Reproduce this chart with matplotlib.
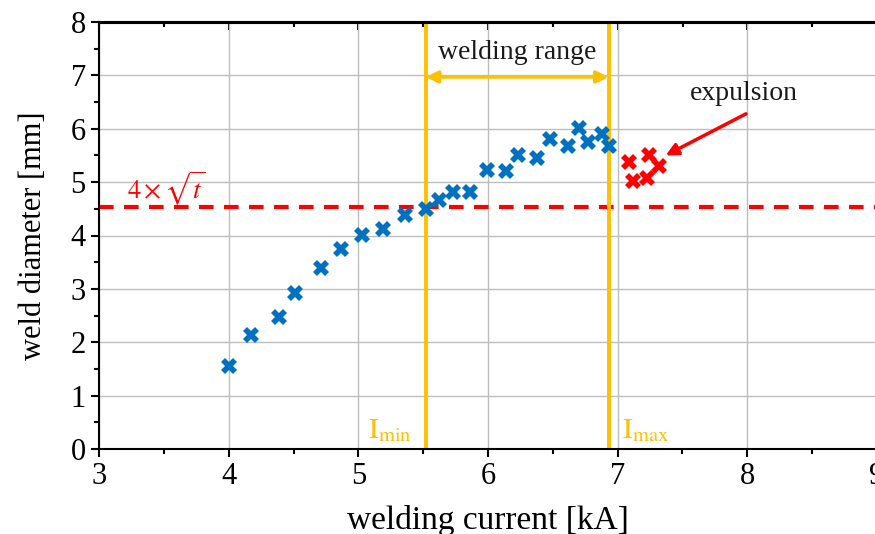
#!/usr/bin/env python
import numpy as np
import matplotlib
matplotlib.use("Agg")
import matplotlib.pyplot as plt
from matplotlib.ticker import MultipleLocator

plt.rcParams['font.family'] = ['Liberation Serif', 'DejaVu Serif']
plt.rcParams['mathtext.fontset'] = 'stix'

# welding current [kA] and weld diameter [mm]
strom_ok = [4.00, 4.17, 4.39, 4.51, 4.71, 4.87, 5.03, 5.19, 5.36, 5.52, 5.62,
            5.73, 5.86, 5.99, 6.14, 6.23, 6.38, 6.48, 6.62, 6.70, 6.77, 6.88, 6.93]
durchm_ok = [1.56, 2.14, 2.47, 2.93, 3.40, 3.75, 4.01, 4.13, 4.39, 4.50, 4.67,
             4.82, 4.82, 5.23, 5.20, 5.51, 5.46, 5.81, 5.67, 6.02, 5.76, 5.91, 5.67]
# Spritzer (expulsion)
strom_spritzer = [7.09, 7.12, 7.24, 7.23, 7.32]
durchm_spritzer = [5.37, 5.03, 5.50, 5.08, 5.31]

i_min = 5.52
i_max = 6.93
d_min = 4.53   # 4 x sqrt(t)

azul = '#0070C0'
rojo = '#FF0000'
amarillo = '#FFC000'

fig = plt.figure(figsize=(8.75, 5.34), dpi=100)
ax = fig.add_axes([99/875, (534-449)/534, (877-99)/875, (449-22)/534])

ax.grid(True, which='major', color='#bdbdbd', lw=1, zorder=0)
ax.axhline(d_min, color=rojo, lw=3, dashes=(3.5, 2.5), zorder=2)
ax.axvline(i_min, color=amarillo, lw=2.8, zorder=2)
ax.axvline(i_max, color=amarillo, lw=2.8, zorder=2)

ax.plot(strom_ok, durchm_ok, 'X', color=azul, ms=11.5, mew=0, zorder=3)
ax.plot(strom_spritzer, durchm_spritzer, 'X', color=rojo, ms=11.5, mew=0, zorder=3)

# welding range arrow
ax.annotate('', xy=(i_min, 6.97), xytext=(i_max, 6.97),
            arrowprops=dict(arrowstyle='<|-|>', color=amarillo, lw=2.5,
                            mutation_scale=18, shrinkA=0, shrinkB=0))
ax.text((i_min + i_max) / 2, 7.42, 'welding range', fontsize=20,
        ha='center', va='center', color='#1a1a1a')

ax.annotate('', xy=(7.37, 5.50), xytext=(7.99, 6.28),
            arrowprops=dict(arrowstyle='-|>', color=rojo, lw=2.5,
                            mutation_scale=18, shrinkA=0, shrinkB=0))
ax.text(7.97, 6.66, 'expulsion', fontsize=20, ha='center', va='center',
        color='#1a1a1a')

ax.text(3.52, 4.88, r'$4\times\sqrt{t}$', fontsize=19, color=rojo,
        ha='center', va='center')
ax.text(5.41, 0.1, r'$\mathrm{I}_{\mathrm{min}}$', fontsize=21, color=amarillo,
        ha='right', va='bottom')
ax.text(7.03, 0.1, r'$\mathrm{I}_{\mathrm{max}}$', fontsize=21, color=amarillo,
        ha='left', va='bottom')

ax.set_xlim(3, 9)
ax.set_ylim(0, 8)
ax.xaxis.set_major_locator(MultipleLocator(1))
ax.xaxis.set_minor_locator(MultipleLocator(0.5))
ax.yaxis.set_major_locator(MultipleLocator(1))
ax.yaxis.set_minor_locator(MultipleLocator(0.5))
ax.tick_params(which='both', direction='out', top=False, right=False,
               labelsize=22, width=1.5)
ax.tick_params(which='major', length=6)
ax.tick_params(which='minor', length=3.5)
for s in ax.spines.values():
    s.set_linewidth(1.5)
ax.spines['top'].set_linewidth(2.2)

# obere Achse: Striche nach innen
oben = ax.secondary_xaxis('top')
oben.xaxis.set_major_locator(MultipleLocator(1))
oben.xaxis.set_minor_locator(MultipleLocator(0.5))
oben.tick_params(which='both', direction='in', labeltop=False, width=1.5)
oben.tick_params(which='major', length=6)
oben.tick_params(which='minor', length=3.5)
oben.spines['top'].set_linewidth(2.2)

ax.set_xlabel('welding current [kA]', fontsize=24, labelpad=10)
ax.set_ylabel('weld diameter [mm]', fontsize=22, labelpad=16)

fig.savefig('out.png', dpi=100)
